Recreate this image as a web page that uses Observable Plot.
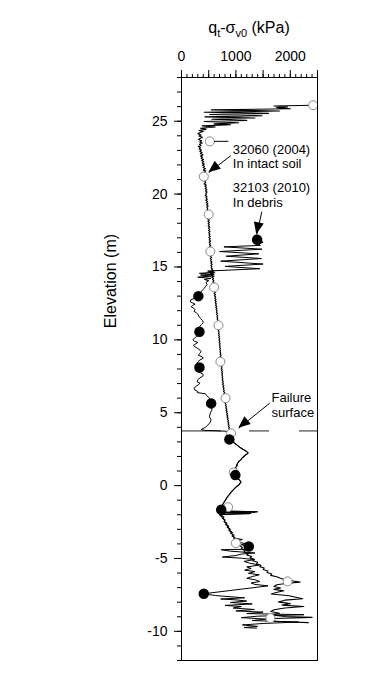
<!DOCTYPE html>
<html><head><meta charset="utf-8">
<script src="https://cdn.jsdelivr.net/npm/d3@7"></script>
<script src="https://cdn.jsdelivr.net/npm/@observablehq/plot@0.6"></script>
<style>body{margin:0;background:#fff;}</style>
</head><body><div id="chart"></div>
<script>
// CPT 32060 (2004) in intact soil: [qt - sigma_v0 (kPa), elevation (m)]
const cpt2004 = [
[2420,26.10],[1700,26.04],[1950,25.98],[1750,25.93],[2000,25.86],[550,25.78],[1800,25.70],[420,25.62],[1600,25.54],[520,25.46],[1480,25.38],[430,25.30],[1350,25.22],[560,25.14],[1200,25.06],[420,24.98],[1050,24.90],[600,24.82],[900,24.76],[380,24.68],[620,24.60],[350,24.52],[450,24.44],[320,24.36],
[400,24.30],[340,24.22],[300,24.14],[360,24.06],[320,23.98],[385,23.90],[340,23.82],[310,23.74],[370,23.66],[335,23.58],[380,23.50],[330,23.42],[360,23.34],[310,23.26],[350,23.18],[325,23.10],[365,23.02],[335,22.94],[380,22.86],[345,22.78],[395,22.70],[350,22.62],[385,22.54],[360,22.46],[405,22.38],[370,22.30],[410,22.22],[380,22.14],[420,22.06],[385,21.98],[425,21.90],[395,21.82],[440,21.74],[400,21.66],[445,21.58],[415,21.50],[450,21.42],[420,21.34],[455,21.26],[425,21.18],[440,21.10],[410,21.02],[450,20.94],[425,20.86],[445,20.78],[415,20.70],[455,20.62],[430,20.54],[460,20.46],[435,20.38],[465,20.30],[440,20.22],[470,20.14],[445,20.06],[460,19.98],[435,19.90],[470,19.82],[450,19.74],[475,19.66],[445,19.58],[480,19.50],[455,19.42],[485,19.34],[460,19.26],[490,19.18],[465,19.10],[480,19.02],[470,18.94],[495,18.86],[465,18.78],[500,18.70],[475,18.62],[505,18.54],[480,18.46],[500,18.38],[478,18.30],[510,18.22],[485,18.14],[515,18.06],[490,17.98],[512,17.90],[488,17.82],[520,17.74],[495,17.66],[518,17.58],[497,17.50],[525,17.42],[500,17.34],[522,17.26],[505,17.18],[530,17.10],[502,17.02],[528,16.94],[510,16.86],[535,16.78],[508,16.70],[530,16.62],[512,16.54],[540,16.46],[515,16.38],[538,16.30],[518,16.22],[545,16.14],[520,16.06],[540,15.98],[525,15.90],[550,15.82],[528,15.74],[555,15.66],[530,15.58],[548,15.50],[535,15.42],[560,15.34],[538,15.26],[565,15.18],[540,15.10],[560,15.02],[545,14.94],[570,14.86],[550,14.78],
[600,14.72],[510,14.66],[610,14.60],[530,14.54],[595,14.48],[545,14.42],[600,14.36],[560,14.30],[590,14.22],[570,14.14],
[595,14.06],[575,13.98],[600,13.90],[580,13.82],[605,13.74],[588,13.66],[612,13.58],[590,13.50],[615,13.42],[598,13.34],[620,13.26],[600,13.18],[625,13.10],[605,13.02],[628,12.94],[612,12.86],[635,12.78],[615,12.70],[638,12.62],[620,12.54],[642,12.46],[625,12.38],[648,12.30],[630,12.22],[652,12.14],[636,12.06],[655,11.98],[640,11.90],[660,11.82],[645,11.74],[665,11.66],[650,11.58],[668,11.50],[655,11.42],[672,11.34],[660,11.26],[678,11.18],[662,11.10],[682,11.02],[668,10.94],[685,10.86],[672,10.78],[690,10.70],[675,10.62],[692,10.54],[680,10.46],[695,10.38],[682,10.30],[700,10.22],[686,10.14],[702,10.06],[690,9.98],[706,9.90],[692,9.82],[710,9.74],[696,9.66],[712,9.58],[700,9.50],[716,9.42],[702,9.34],[720,9.26],[706,9.18],[722,9.10],[710,9.02],[728,8.94],[712,8.86],[730,8.78],[716,8.70],[735,8.62],[720,8.54],[738,8.46],[725,8.38],[742,8.30],[728,8.22],[746,8.14],[730,8.06],[748,7.98],[734,7.90],[752,7.82],[738,7.74],[755,7.66],[740,7.58],[758,7.50],[744,7.42],[762,7.34],[748,7.26],[766,7.18],[752,7.10],[772,7.02],[756,6.94],[778,6.86],[760,6.78],[782,6.70],[768,6.62],[788,6.54],[772,6.46],[794,6.38],[778,6.30],[800,6.22],[784,6.14],[806,6.06],[790,5.98],[810,5.90],[795,5.82],[816,5.74],[800,5.66],[822,5.58],[806,5.50],[828,5.42],[812,5.34],[834,5.26],[818,5.18],[840,5.10],[824,5.02],[846,4.94],[830,4.86],[852,4.78],[836,4.70],[858,4.62],[842,4.54],[864,4.46],[850,4.38],[870,4.30],[856,4.22],[876,4.14],[862,4.06],[882,3.98],[868,3.90],[886,3.82],[876,3.76],
[895,3.65],[880,3.50],[900,3.35],[885,3.22],[910,3.10],[950,2.98],[990,2.88],[1030,2.76],[1060,2.66],[1100,2.55],[1150,2.45],[1190,2.36],[1220,2.26],[1200,2.18],[1170,2.08],[1140,1.98],[1110,1.88],[1095,1.78],[1060,1.68],[1040,1.58],[1020,1.48],[1030,1.40],[1005,1.30],[990,1.20],[1000,1.10],[980,1.00],[995,0.90],[985,0.80],[1010,0.70],[1030,0.58],[1050,0.46],[1070,0.36],[1090,0.26],[1075,0.16],[1060,0.06],[1020,-0.04],[990,-0.14],[960,-0.26],[930,-0.38],[900,-0.50],[880,-0.62],[850,-0.74],[830,-0.86],[810,-0.98],[790,-1.10],[770,-1.22],[755,-1.34],[740,-1.46],[725,-1.56],[710,-1.66],[730,-1.76],[1350,-1.82],[745,-1.86],[1250,-1.92],[760,-1.98],[720,-2.06],[780,-2.16],[760,-2.26],[800,-2.36],[780,-2.46],[830,-2.56],[810,-2.66],[860,-2.76],[840,-2.86],[890,-2.96],[870,-3.06],[920,-3.16],[900,-3.26],[950,-3.36],[930,-3.46],[980,-3.56],[960,-3.66],[1010,-3.76],[990,-3.86],[1050,-3.96],[1030,-4.06],[1090,-4.16],[1120,-4.26],[1100,-4.36],[1170,-4.46],[1150,-4.56],[1230,-4.66],[1200,-4.76],[1290,-4.86],[1260,-4.96],[1340,-5.06],[1310,-5.16],[1400,-5.26],[1380,-5.36],[1460,-5.46],[1440,-5.56],[1520,-5.66],[1500,-5.76],[1590,-5.86],[1570,-5.96],[1660,-6.06],[1640,-6.16],[1750,-6.26],[1820,-6.36],[1900,-6.46],[2050,-6.55],[2180,-6.62],[1950,-6.70],[1750,-6.80],[1700,-6.92],[1820,-7.02],[1700,-7.12],[1880,-7.22],[1760,-7.32],[1650,-7.44],[1980,-7.56],[2100,-7.66],[2230,-7.76],[1900,-7.86],[1780,-7.98],[2000,-8.10],[1850,-8.20],[2250,-8.30],[1900,-8.40],[1700,-8.52],[1640,-8.64],[1800,-8.76],[1660,-8.88],[1900,-8.98],[2400,-9.04],[1700,-9.12],[1600,-9.22],[1750,-9.32],[2330,-9.40]
];

// CPT 32103 (2010) in debris: [qt - sigma_v0 (kPa), elevation (m)]
const cpt2010 = [
[1390,16.87],[1500,16.70],[1420,16.58],[1450,16.48],[780,16.38],[1480,16.22],[700,16.06],[1420,15.90],[820,15.74],[1470,15.58],[720,15.40],[1500,15.20],[800,15.04],[1440,14.88],[480,14.72],[590,14.64],[330,14.56],[580,14.50],[350,14.44],[560,14.38],[300,14.30],[540,14.22],[420,14.14],[500,14.06],[450,13.95],[470,13.80],[440,13.65],[410,13.50],[370,13.35],[340,13.20],[320,13.05],[290,12.92],[230,12.84],[170,12.74],[160,12.62],[210,12.52],[250,12.44],[200,12.36],[180,12.26],[230,12.16],[250,12.06],[230,11.96],[270,11.86],[300,11.76],[320,11.62],[350,11.46],[390,11.32],[400,11.18],[370,11.06],[340,10.94],[330,10.80],[320,10.64],[330,10.50],[310,10.36],[280,10.24],[240,10.12],[210,10.00],[240,9.90],[300,9.82],[260,9.72],[220,9.62],[250,9.52],[300,9.40],[340,9.30],[360,9.18],[330,9.06],[310,8.94],[380,8.84],[400,8.74],[340,8.62],[300,8.50],[280,8.38],[320,8.22],[330,8.08],[310,7.94],[270,7.86],[350,7.74],[400,7.62],[390,7.50],[330,7.38],[300,7.26],[290,7.12],[340,7.02],[310,6.92],[270,6.82],[230,6.68],[245,6.56],[300,6.46],[290,6.38],[440,6.30],[460,6.18],[500,6.06],[520,5.94],[530,5.80],[545,5.64],[540,5.50],[555,5.36],[560,5.18],[530,5.00],[514,4.72],[545,4.49],[520,4.30],[483,4.15],[440,4.00],[361,3.85],[420,3.79],[600,3.77],[860,3.72],
[895,3.60],[905,3.40],[890,3.25],[880,3.17],[930,3.02],[975,2.90],[1010,2.80],[1050,2.70],[1090,2.60],[1130,2.50],[1170,2.40],[1210,2.30],[1230,2.22],[1190,2.12],[1160,2.02],[1120,1.92],[1100,1.82],[1075,1.72],[1050,1.62],[1030,1.52],[1010,1.42],[1020,1.34],[995,1.24],[1005,1.14],[985,1.04],[1000,0.94],[990,0.84],[995,0.72],[1020,0.62],[1040,0.50],[1060,0.40],[1085,0.30],[1095,0.20],[1070,0.10],[1040,0.00],[1005,-0.10],[975,-0.20],[945,-0.32],[915,-0.44],[890,-0.56],[865,-0.68],[840,-0.80],[820,-0.92],[800,-1.04],[780,-1.16],[760,-1.28],[745,-1.40],[735,-1.52],[720,-1.62],[700,-1.72],[1400,-1.80],[720,-1.84],[1280,-1.90],[740,-1.96],[700,-2.04],[760,-2.12],[740,-2.22],[780,-2.32],[800,-2.42],[790,-2.52],[840,-2.62],[820,-2.72],[870,-2.82],[860,-2.92],[900,-3.02],[880,-3.12],[940,-3.22],[920,-3.32],[970,-3.42],[950,-3.52],[1000,-3.62],[1120,-3.70],[1010,-3.80],[1060,-3.90],[1180,-3.98],[1100,-4.06],[1240,-4.18],[1200,-4.28],[1260,-4.36],[730,-4.40],[900,-4.50],[1350,-4.62],[1100,-4.70],[1000,-4.80],[750,-4.90],[1100,-4.98],[1340,-5.08],[1150,-5.20],[1250,-5.32],[1430,-5.45],[1200,-5.58],[1280,-5.68],[1160,-5.80],[1350,-5.90],[1230,-6.02],[1430,-6.12],[1300,-6.24],[1200,-6.36],[1350,-6.46],[1440,-6.58],[1280,-6.68],[1350,-6.78],[1590,-6.88],[410,-7.42],[620,-7.54],[800,-7.60],[1160,-7.70],[720,-7.78],[1000,-7.84],[1200,-7.92],[900,-8.02],[1300,-8.12],[800,-8.22],[1100,-8.30],[950,-8.40],[1340,-8.50],[1000,-8.60],[1500,-8.68],[1200,-8.78],[2250,-8.86],[1400,-8.96],[1100,-9.06],[1550,-9.16],[1300,-9.26],[2150,-9.36],[1500,-9.46],[1120,-9.56],[1400,-9.66],[1150,-9.74],[1380,-9.78]
];

// symbols on the profiles
const open2004 = [[2420,26.10],[520,23.62],[410,21.20],[500,18.60],[530,16.06],[600,13.60],[680,11.00],[715,8.50],[810,6.00],[910,3.58],[960,0.90],[857,-1.48],[1000,-3.95],[1950,-6.57],[1635,-9.09]];
const filled2010 = [[1390,16.87],[310,13.00],[330,10.56],[330,8.10],[545,5.64],[880,3.17],[990,0.72],[730,-1.66],[1237,-4.18],[410,-7.42]];

const failureElevation = 3.75;

// annotations
const labels = [
  {v: 944, e: 23.05, t: "32060 (2004)"},
  {v: 944, e: 22.10, t: "In intact soil"},
  {v: 944, e: 20.44, t: "32103 (2010)"},
  {v: 944, e: 19.41, t: "In debris"},
  {v: 1654, e: 6.00, t: "Failure"},
  {v: 1654, e: 4.97, t: "surface"}
];
const arrows = [
  {v1: 906, e1: 22.64, v2: 502, e2: 21.47},
  {v1: 1476, e1: 18.79, v2: 1384, e2: 17.21},
  {v1: 1623, e1: 5.66, v2: 1053, e2: 3.94}
];
const leaders = [{v1: 600, e1: 23.62, v2: 860, e2: 23.62}];

const xMajor = d3.range(0, 2501, 500);
const xMinor = d3.range(0, 2501, 100);
const yMajor = d3.range(-10, 26, 5);
const yMinor = d3.range(-12, 29, 1);

const font = "Arial, 'Liberation Sans', Helvetica, sans-serif";
const toObj = a => a.map(([v, e]) => ({v, e}));

const chart = Plot.plot({
  width: 383, height: 684,
  marginLeft: 181, marginRight: 66, marginTop: 77, marginBottom: 24,
  style: {fontFamily: font, fontSize: "14px", color: "black", background: "white"},
  x: {domain: [0, 2500], axis: null},
  y: {domain: [-12, 28], axis: null},
  marks: [
    Plot.ruleY([failureElevation], {stroke: "#222", strokeWidth: 1, strokeDasharray: "40,28,20,30,20,30"}),
    Plot.line(toObj(cpt2010), {x: "v", y: "e", stroke: "black", strokeWidth: 1}),
    Plot.line(toObj(cpt2004), {x: "v", y: "e", stroke: "black", strokeWidth: 1.1}),
    Plot.dot(toObj(open2004), {x: "v", y: "e", r: 4.5, fill: "white", stroke: "#8a8a8a", strokeWidth: 1}),
    Plot.dot(toObj(filled2010), {x: "v", y: "e", r: 4.5, fill: "black", stroke: "black"}),
    Plot.link(leaders.concat(arrows), {x1: "v1", y1: "e1", x2: "v2", y2: "e2", stroke: "black", strokeWidth: 1}),
    Plot.text(labels, {x: "v", y: "e", text: "t", textAnchor: "start", lineAnchor: "middle", fontSize: 13, fill: "black"}),
    Plot.axisX({anchor: "top", ticks: xMinor, tickSize: 4, tickFormat: () => "", label: null}),
    Plot.axisX({anchor: "top", ticks: xMajor, tickSize: 8, tickPadding: 9, tickFormat: d => (d % 1000 === 0 ? String(d) : ""), label: null}),
    Plot.axisY({anchor: "left", ticks: yMinor, tickSize: 4, tickFormat: () => "", label: null}),
    Plot.axisY({anchor: "left", ticks: yMajor, tickSize: 7, tickPadding: 7, tickFormat: d => String(d), label: null}),
    Plot.frame({stroke: "black", strokeWidth: 1})
  ]
});
document.getElementById("chart").appendChild(chart);

const svg = d3.select(chart);
const xs = chart.scale("x"), ys = chart.scale("y");

// filled arrowheads placed with the plot's scales
const headLen = 12, headHalf = 5;
svg.append("g").attr("aria-label", "arrowheads").selectAll("path").data(arrows).join("path")
  .attr("fill", "black")
  .attr("d", a => {
    const x1 = xs.apply(a.v1), y1 = ys.apply(a.e1), x2 = xs.apply(a.v2), y2 = ys.apply(a.e2);
    const dx = x2 - x1, dy = y2 - y1, L = Math.hypot(dx, dy);
    const ux = dx / L, uy = dy / L, nx = -uy, ny = ux;
    const bx = x2 - ux * headLen, by = y2 - uy * headLen;
    return `M${x2},${y2}L${bx + nx * headHalf},${by + ny * headHalf}L${bx - nx * headHalf},${by - ny * headHalf}Z`;
  });

// x-axis title with subscripts
const title = svg.append("text")
  .attr("x", (xs.apply(0) + xs.apply(2500)) / 2).attr("y", 33)
  .attr("text-anchor", "middle").attr("fill", "black")
  .style("font-family", font).style("font-size", "16px");
title.append("tspan").text("q");
title.append("tspan").attr("dy", 4).style("font-size", "11px").text("t");
title.append("tspan").attr("dy", -4).text("-σ");
title.append("tspan").attr("dy", 4).style("font-size", "11px").text("v0");
title.append("tspan").attr("dy", -4).text(" (kPa)");

// y-axis title
svg.append("text")
  .attr("transform", `translate(116,${ys.apply(14)}) rotate(-90)`)
  .attr("text-anchor", "middle").attr("fill", "black")
  .style("font-family", font).style("font-size", "16px")
  .text("Elevation (m)");
</script>
</body></html>
